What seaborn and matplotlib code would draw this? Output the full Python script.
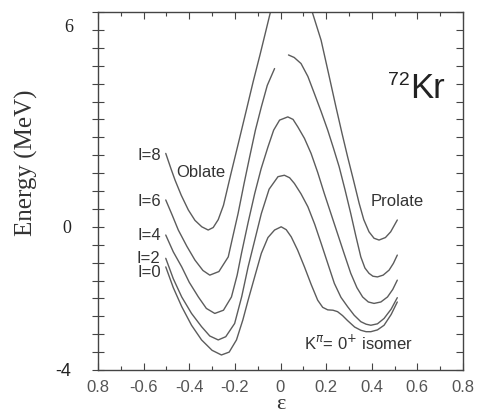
import matplotlib
matplotlib.use("Agg")
import matplotlib.pyplot as plt
import matplotlib.ticker as mticker
import numpy as np
import pandas as pd
import seaborn as sns

# ---------------- data ----------------
eps_I0 = [-0.503, -0.47, -0.433, -0.39, -0.346, -0.30, -0.259, -0.225, -0.193, -0.165, -0.142,
          -0.112, -0.084, -0.055, -0.026, 0.003, 0.025, 0.047, 0.075, 0.105, 0.135, 0.163, 0.185,
          0.207, 0.23, 0.250, 0.272, 0.294, 0.325, 0.352, 0.375, 0.396, 0.425, 0.454, 0.485, 0.512]
E_I0 = [-1.12, -1.70, -2.23, -2.75, -3.16, -3.45, -3.58, -3.50, -3.16, -2.60, -2.05,
        -1.37, -0.74, -0.30, -0.09, 0.0, -0.08, -0.28, -0.65, -1.12, -1.62, -2.05, -2.25,
        -2.32, -2.33, -2.37, -2.48, -2.62, -2.80, -2.89, -2.93, -2.93, -2.88, -2.75, -2.45, -2.10]

eps_I2 = [-0.503, -0.47, -0.433, -0.39, -0.346, -0.31, -0.273, -0.24, -0.201, -0.17, -0.142,
          -0.112, -0.084, -0.05, -0.011, 0.017, 0.04, 0.061, 0.09, 0.120, 0.15, 0.178, 0.207,
          0.236, 0.265, 0.294, 0.323, 0.352, 0.375, 0.396, 0.425, 0.454, 0.485, 0.512]
E_I2 = [-0.88, -1.45, -1.96, -2.42, -2.79, -3.05, -3.16, -3.07, -2.70, -1.95, -1.12,
        -0.35, 0.37, 1.05, 1.40, 1.44, 1.37, 1.21, 0.92, 0.56, 0.07, -0.46, -1.02,
        -1.58, -1.97, -2.23, -2.47, -2.65, -2.72, -2.75, -2.71, -2.56, -2.30, -1.98]

eps_I4 = [-0.503, -0.47, -0.433, -0.40, -0.360, -0.325, -0.288, -0.25, -0.215, -0.19, -0.171,
          -0.142, -0.113, -0.085, -0.055, -0.03, -0.004, 0.032, 0.055, 0.076, 0.105, 0.134,
          0.163, 0.192, 0.221, 0.250, 0.279, 0.308, 0.335, 0.360, 0.385, 0.410, 0.440, 0.469,
          0.492, 0.512]
E_I4 = [-0.23, -0.70, -1.12, -1.55, -1.96, -2.28, -2.42, -2.33, -1.96, -1.35, -0.74,
        0.12, 0.93, 1.62, 2.23, 2.70, 2.98, 3.07, 3.00, 2.79, 2.47, 2.05,
        1.52, 0.93, 0.37, -0.19, -0.75, -1.30, -1.70, -1.96, -2.10, -2.14, -2.10, -1.96,
        -1.75, -1.49]

# I=6 is drawn in two pieces (gap near the top of the barrier)
eps_I6a = [-0.503, -0.475, -0.448, -0.41, -0.375, -0.34, -0.310, -0.27, -0.229, -0.21, -0.186,
           -0.16, -0.135, -0.11, -0.084, -0.058, -0.026]
E_I6a = [0.75, 0.33, -0.09, -0.55, -0.93, -1.22, -1.35, -1.25, -0.84, -0.30, 0.37,
         1.20, 1.96, 2.70, 3.35, 3.95, 4.42]
eps_I6b = [0.035, 0.06, 0.090, 0.12, 0.148, 0.178, 0.207, 0.232, 0.257, 0.283, 0.308, 0.330,
           0.352, 0.370, 0.388, 0.405, 0.425, 0.450, 0.476, 0.495, 0.512]
E_I6b = [4.80, 4.73, 4.56, 4.20, 3.73, 3.22, 2.70, 2.20, 1.68, 1.03, 0.37, -0.25,
         -0.84, -1.15, -1.30, -1.38, -1.40, -1.35, -1.21, -1.02, -0.79]

eps_I8 = [-0.503, -0.48, -0.462, -0.435, -0.404, -0.375, -0.345, -0.317, -0.295, -0.273, -0.25,
          -0.217, -0.186, -0.15, -0.12, -0.09, -0.065, -0.044, -0.02, 0.0, 0.04, 0.08, 0.11,
          0.141, 0.178, 0.21, 0.243, 0.27, 0.294, 0.32, 0.345, 0.365, 0.388, 0.41, 0.432, 0.46,
          0.483, 0.512]
E_I8 = [2.05, 1.62, 1.30, 0.88, 0.47, 0.18, 0.0, -0.09, -0.02, 0.20, 0.60,
        1.49, 2.30, 3.25, 4.05, 4.80, 5.45, 6.0, 6.6, 7.0, 7.35, 7.2, 6.7,
        5.96, 5.21, 4.3, 3.35, 2.6, 1.96, 1.3, 0.65, 0.20, -0.14, -0.32, -0.37, -0.30,
        -0.14, 0.19]

spin_labels = ["I=8", "I=6", "I=4", "I=2", "I=0"]
spin_label_E = [2.0, 0.70, -0.23, -0.88, -1.28]

xtick_vals = [-0.8, -0.6, -0.4, -0.2, 0.0, 0.2, 0.4, 0.6, 0.8]
xtick_labels = ["0.8", "-0.6", "-0.4", "-0.2", "0", "0.2", "0.4", "0.6", "0.8"]
ytick_vals = [-4, 0]
ytick_labels = ["-4", "0"]

segments = {
    "I0": (eps_I0, E_I0),
    "I2": (eps_I2, E_I2),
    "I4": (eps_I4, E_I4),
    "I6a": (eps_I6a, E_I6a),
    "I6b": (eps_I6b, E_I6b),
    "I8": (eps_I8, E_I8),
}
frames = [pd.DataFrame({"eps": e, "E": v, "seg": k}) for k, (e, v) in segments.items()]
df = pd.concat(frames, ignore_index=True)

# ---------------- plot ----------------
sns.set_theme(style="white")
plt.rcParams["font.family"] = ["Liberation Sans", "DejaVu Sans"]

fig = plt.figure(figsize=(4.8, 4.17), dpi=100)
ax = fig.add_axes([98 / 480, 1 - 370 / 417, (463 - 98) / 480, (370 - 12) / 417])

line_col = "#5c5c5c"
sns.lineplot(data=df, x="eps", y="E", units="seg", estimator=None, sort=False,
             color=line_col, linewidth=1.0, ax=ax, legend=False)

ax.set_xlim(-0.8, 0.8)
ax.set_ylim(-4, 6)

for s in ax.spines.values():
    s.set_visible(True)
    s.set_color("#444444")
    s.set_linewidth(1.0)

# x ticks
ax.set_xticks(xtick_vals)
ax.set_xticklabels(xtick_labels, fontsize=12, color="#555555")
ax.xaxis.set_minor_locator(mticker.MultipleLocator(0.1))
ax.tick_params(axis="x", which="major", direction="in", length=5, width=0.8,
               color="#444444", pad=7, top=True, bottom=True)
ax.tick_params(axis="x", which="minor", direction="in", length=3, width=0.8,
               color="#444444", top=True, bottom=True)

# y ticks
ax.set_yticks(ytick_vals)
ax.set_yticklabels(ytick_labels, fontsize=13, color="#222222")
ax.yaxis.set_minor_locator(mticker.MultipleLocator(0.5))
ax.tick_params(axis="y", which="both", direction="inout", length=8, width=0.8,
               color="#444444", left=True, right=False, pad=15)
for lbl in ax.get_yticklabels():
    if lbl.get_text() == "0":
        lbl.set_family(["Liberation Serif", "DejaVu Serif"])
# right-side inward ticks
axr = ax.secondary_yaxis("right")
axr.set_yticks(np.arange(-4, 6.01, 0.5))
axr.set_yticklabels([])
axr.tick_params(direction="in", length=5, width=0.8, color="#444444")
axr.spines["right"].set_visible(False)

# "6" label sits a little below the top tick
ax.annotate("6", xy=(0, 6), xycoords=("axes fraction", "data"), xytext=(-25, -15),
            textcoords="offset pixels", ha="right", va="center", fontsize=13,
            color="#222222", family=["Liberation Serif", "DejaVu Serif"],
            annotation_clip=False)

ax.set_ylabel("Energy (MeV)", fontsize=18, color="#333333",
              family=["Liberation Serif", "DejaVu Serif"])
ax.yaxis.set_label_coords(-0.165, 0.578)
ax.set_xlabel("ε", fontsize=16, color="#333333", family=["Liberation Serif", "DejaVu Serif"])
ax.xaxis.set_label_coords(0.5, -0.07)

# annotations
txt_col = "#333333"
for lab, e in zip(spin_labels, spin_label_E):
    ax.text(-0.525, e, lab, ha="right", va="center", fontsize=12, color=txt_col)
ax.text(-0.455, 1.53, "Oblate", ha="left", va="center", fontsize=12, color=txt_col)
ax.text(0.396, 0.70, "Prolate", ha="left", va="center", fontsize=12, color=txt_col)
ax.text(0.103, -3.26, r"K$^{\pi}$= 0$^{+}$ isomer", ha="left", va="center",
        fontsize=12, color=txt_col)
ax.text(0.470, 3.96, "72", ha="left", va="baseline", fontsize=14, color="#222222")
ax.text(0.570, 3.59, "Kr", ha="left", va="baseline", fontsize=25, color="#222222")

fig.savefig("out.png", dpi=100)
